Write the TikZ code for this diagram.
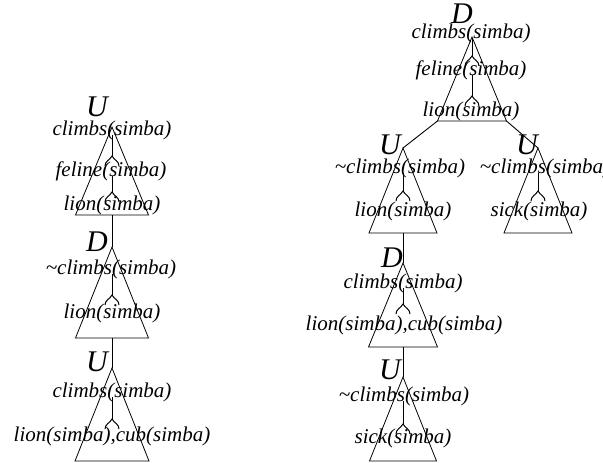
\documentclass[tikz,border=0pt]{standalone}
\usepackage{fontspec}
\setmainfont{Liberation Serif}
\newcommand\maketri[5]{%
  \coordinate (#1a) at (#2,#3);
  \coordinate (#1l) at (#2-#5,#4);
  \coordinate (#1r) at (#2+#5,#4);
  \coordinate (#1b) at (#2,#4);
  \draw[tri] (#1a) -- (#1l) -- (#1r) -- cycle;}
\begin{document}
\begin{tikzpicture}[x=1pt,y=-1pt,
  lab/.style={inner sep=0pt, font=\fontsize{21}{25}\selectfont\itshape},
  big/.style={inner sep=0pt, font=\fontsize{30}{34}\selectfont\itshape},
  tri/.style={draw, line width=0.8pt},
  stem/.style={line width=0.9pt},
  arms/.pic={\draw[line width=1pt] (-7,10) .. controls (-7,5) and (-2,4) .. (0,0) .. controls (2,4) and (7,5) .. (7,10);}]
\useasboundingbox (0,0) rectangle (603,463);

% ---------- left column ----------
\maketri{p}{112}{127}{215}{36.5}
\node[big] (pU) at (97,107) {U};
\node[lab] (pc) at (112,130) {climbs(simba)};
\node[lab] (pf) at (111,171) {feline(simba)};
\node[lab] (pli) at (112,205) {lion(simba)};
\coordinate (pj1) at (112,156);
\coordinate (pj2) at (112,192);
\draw[stem] (pc.base -| pj1) -- (pj1); \pic at (pj1) {arms};
\draw[stem] (pf.base -| pj2) -- (pj2); \pic at (pj2) {arms};

\maketri{q}{112}{247}{338}{36.5}
\node[big] (qD) at (97,242) {D};
\node[lab] (qc) at (111,269) {\textasciitilde climbs(simba)};
\node[lab] (qli) at (112,313) {lion(simba)};
\coordinate (qj1) at (112,295);
\draw[stem] (qc.base -| qj1) -- (qj1); \pic at (qj1) {arms};

\maketri{r}{112}{368}{461}{37}
\node[big] (rU) at (97,362) {U};
\node[lab] (rc) at (112,392) {climbs(simba)};
\node[lab] (rli) at (112,436) {lion(simba),cub(simba)};
\coordinate (rj1) at (112,419);
\draw[stem] (rc.base -| rj1) -- (rj1); \pic at (rj1) {arms};

\draw[stem] (pb) -- (qa);
\draw[stem] (qb) -- (ra);

% ---------- right column ----------
\maketri{s}{472}{37}{121}{34.5}
\node[big] (sD) at (462,14) {D};
\node[lab] (sc) at (471,33) {climbs(simba)};
\node[lab] (sf) at (471,70) {feline(simba)};
\node[lab] (sli) at (471,111) {lion(simba)};
\coordinate (sj1) at (472,56);
\coordinate (sj2) at (472,96);
\draw[stem] (sc.base -| sj1) -- (sj1); \pic at (sj1) {arms};
\draw[stem] (sf.base -| sj2) -- (sj2); \pic at (sj2) {arms};

\maketri{t}{403}{148}{233}{34}
\node[big] (tU) at (390,145) {U};
\node[lab] (tc) at (400,168) {\textasciitilde climbs(simba)};
\node[lab] (tli) at (403,211) {lion(simba)};
\coordinate (tj1) at (403,191);
\draw[stem] (tc.base -| tj1) -- (tj1); \pic at (tj1) {arms};

\maketri{u}{538}{148}{233}{34}
\node[big] (uU) at (527,145) {U};
\node[lab] (uc) at (545,168) {\textasciitilde climbs(simba)};
\node[lab] (usk) at (539,211) {sick(simba)};
\coordinate (uj1) at (538,191);
\draw[stem] (uc.base -| uj1) -- (uj1); \pic at (uj1) {arms};

\maketri{v}{403}{263}{347}{34.5}
\node[big] (vD) at (392,258) {D};
\node[lab] (vc) at (403,283) {climbs(simba)};
\node[lab] (vli) at (404,325) {lion(simba),cub(simba)};
\coordinate (vj1) at (403,304);
\draw[stem] (vc.base -| vj1) -- (vj1); \pic at (vj1) {arms};

\maketri{w}{403}{377}{461}{33.5}
\node[big] (wU) at (390,370) {U};
\node[lab] (wc) at (404,396) {\textasciitilde climbs(simba)};
\node[lab] (wsk) at (403,438) {sick(simba)};
\coordinate (wj1) at (403,424);
\draw[stem] (wc.base -| wj1) -- (wj1); \pic at (wj1) {arms};

\draw[stem] (sl) -- (ta);
\draw[stem] (sr) -- (ua);
\draw[stem] (tb) -- (va);
\draw[stem] (vb) -- (wa);
\end{tikzpicture}
\end{document}
